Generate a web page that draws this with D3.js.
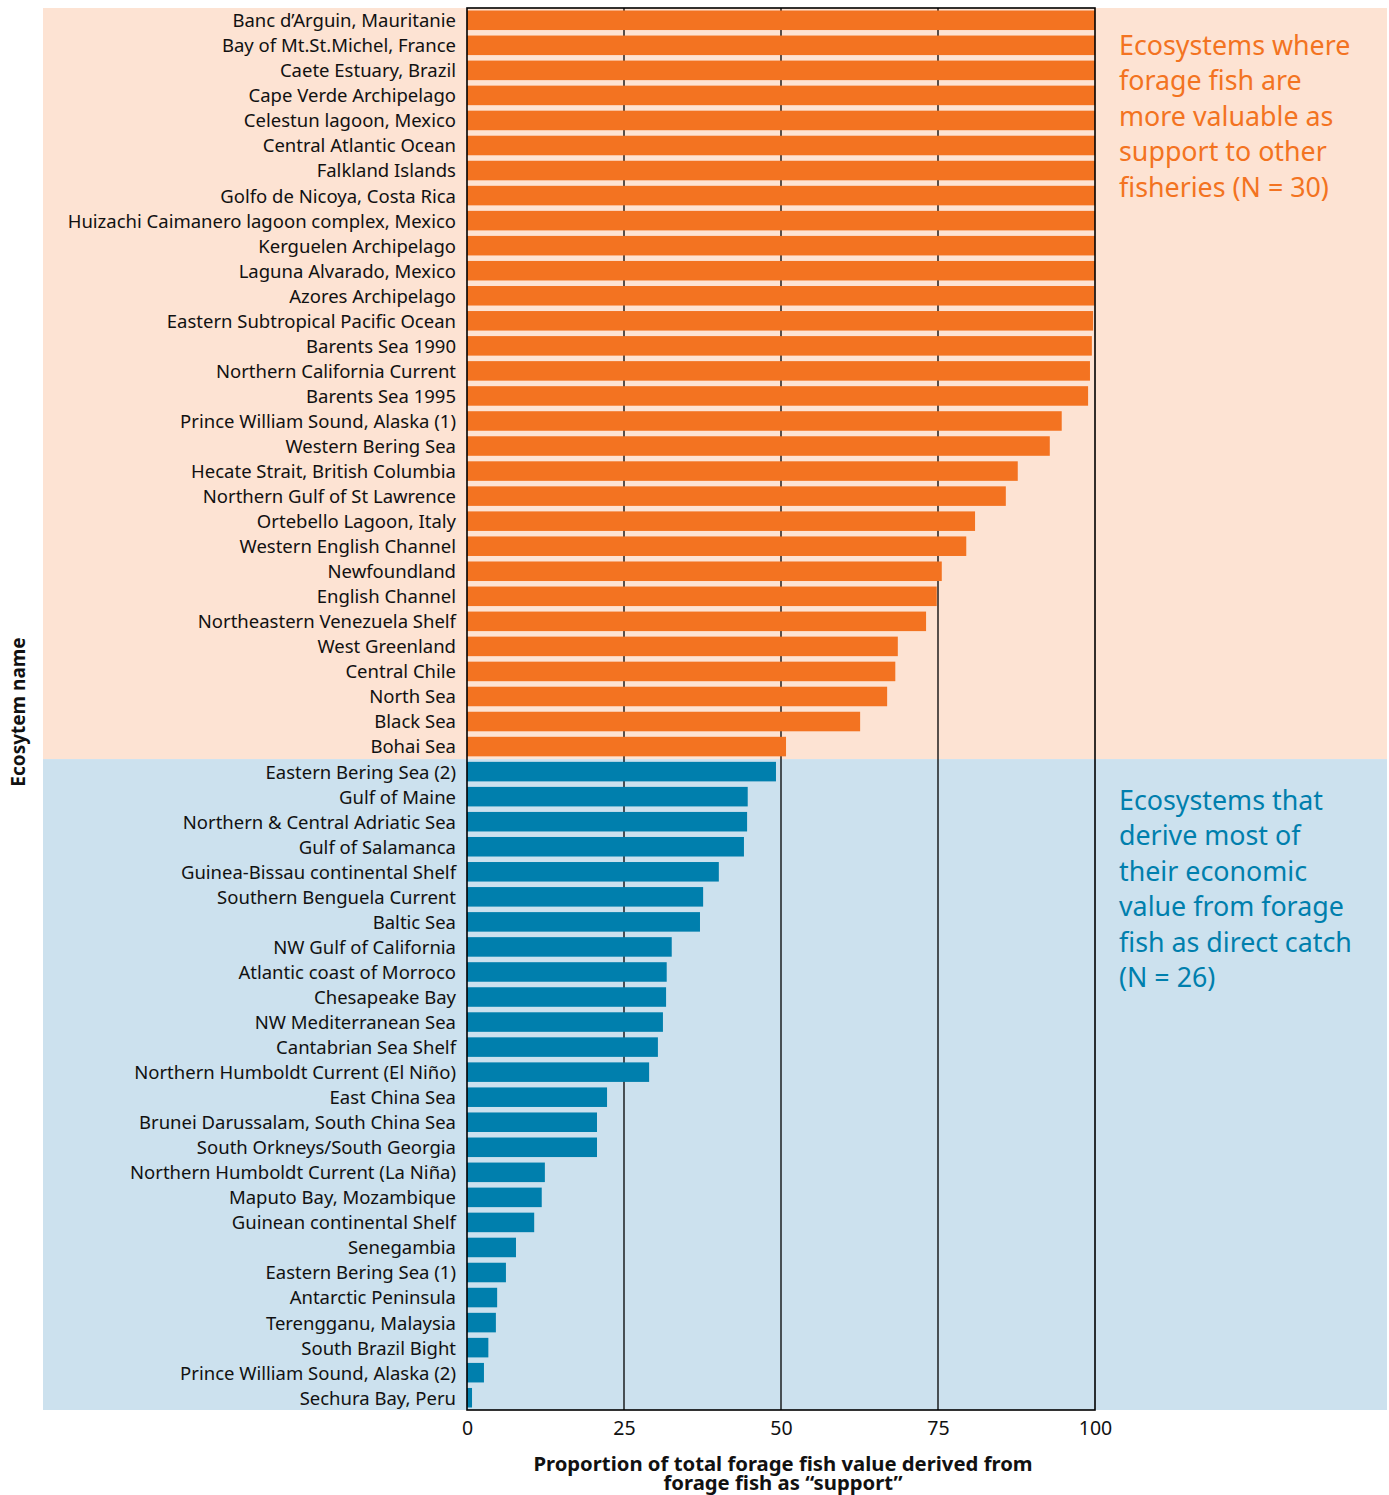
<!DOCTYPE html>
<html>
<head>
<meta charset="utf-8">
<script src="https://cdn.jsdelivr.net/npm/d3@7"></script>
<style>
  body { margin: 0; background: #fff; }
  svg { display: block; font-family: "Noto Sans", "Open Sans", sans-serif; }
</style>
</head>
<body>
<svg id="chart"></svg>
<script>
// Ecosystems, top to bottom
const supportNames = [
  "Banc d\u2019Arguin, Mauritanie", "Bay of Mt.St.Michel, France", "Caete Estuary, Brazil",
  "Cape Verde Archipelago", "Celestun lagoon, Mexico", "Central Atlantic Ocean",
  "Falkland Islands", "Golfo de Nicoya, Costa Rica", "Huizachi Caimanero lagoon complex, Mexico",
  "Kerguelen Archipelago", "Laguna Alvarado, Mexico", "Azores Archipelago",
  "Eastern Subtropical Pacific Ocean", "Barents Sea 1990", "Northern California Current",
  "Barents Sea 1995", "Prince William Sound, Alaska (1)", "Western Bering Sea",
  "Hecate Strait, British Columbia", "Northern Gulf of St Lawrence", "Ortebello Lagoon, Italy",
  "Western English Channel", "Newfoundland", "English Channel",
  "Northeastern Venezuela Shelf", "West Greenland", "Central Chile",
  "North Sea", "Black Sea", "Bohai Sea"
];
const supportValues = [
  100, 100, 100, 100, 100, 100, 100, 100, 100, 100, 100, 99.9,
  99.7, 99.5, 99.2, 98.9, 94.7, 92.8, 87.7, 85.8, 80.9, 79.5,
  75.6, 74.8, 73.1, 68.6, 68.2, 66.9, 62.6, 50.8
];
const catchNames = [
  "Eastern Bering Sea (2)", "Gulf of Maine", "Northern & Central Adriatic Sea",
  "Gulf of Salamanca", "Guinea-Bissau continental Shelf", "Southern Benguela Current",
  "Baltic Sea", "NW Gulf of California", "Atlantic coast of Morroco",
  "Chesapeake Bay", "NW Mediterranean Sea", "Cantabrian Sea Shelf",
  "Northern Humboldt Current (El Ni\u00f1o)", "East China Sea", "Brunei Darussalam, South China Sea",
  "South Orkneys/South Georgia", "Northern Humboldt Current (La Ni\u00f1a)", "Maputo Bay, Mozambique",
  "Guinean continental Shelf", "Senegambia", "Eastern Bering Sea (1)",
  "Antarctic Peninsula", "Terengganu, Malaysia", "South Brazil Bight",
  "Prince William Sound, Alaska (2)", "Sechura Bay, Peru"
];
const catchValues = [
  49.2, 44.7, 44.6, 44.1, 40.1, 37.6, 37.1, 32.6, 31.8, 31.7, 31.2, 30.4,
  29.0, 22.3, 20.7, 20.7, 12.4, 11.9, 10.7, 7.8, 6.2, 4.8, 4.6, 3.4, 2.7, 0.8
];
const xTicks = [0, 25, 50, 75, 100];

const supportText = ["Ecosystems where", "forage fish are", "more valuable as",
  "support to other", "fisheries (N = 30)"];
const catchText = ["Ecosystems that", "derive most of", "their economic",
  "value from forage", "fish as direct catch", "(N = 26)"];

const width = 1389, height = 1495;
const plot = { left: 467, right: 1095, top: 8, bottom: 1410 };
const bgLeft = 43, bgRight = 1387;

const colors = {
  supportBg: "#fde3d3", catchBg: "#cce1ee",
  supportBar: "#f37321", catchBar: "#007fad"
};

const data = supportNames.map((n, i) => ({ name: n, value: supportValues[i], group: "support" }))
  .concat(catchNames.map((n, i) => ({ name: n, value: catchValues[i], group: "catch" })));

const svg = d3.select("#chart").attr("width", width).attr("height", height);

const x = d3.scaleLinear().domain([0, 100]).range([plot.left, plot.right]);
const y = d3.scaleBand()
  .domain(data.map(d => d.name))
  .range([plot.top, plot.bottom])
  .paddingInner(0.22)
  .paddingOuter(0.1);

// Hintergrund der beiden Gruppen
const split = y(catchNames[0]) - y.step() * y.paddingInner() / 2;
svg.append("rect")
  .attr("x", bgLeft).attr("y", plot.top)
  .attr("width", bgRight - bgLeft).attr("height", split - plot.top)
  .attr("fill", colors.supportBg);
svg.append("rect")
  .attr("x", bgLeft).attr("y", split)
  .attr("width", bgRight - bgLeft).attr("height", plot.bottom - split)
  .attr("fill", colors.catchBg);

// Gitterlinien
svg.append("g")
  .selectAll("line")
  .data(xTicks.slice(1, -1))
  .join("line")
    .attr("x1", d => x(d)).attr("x2", d => x(d))
    .attr("y1", plot.top).attr("y2", plot.bottom)
    .attr("stroke", "#000").attr("stroke-width", 1.3);

// Balken
svg.append("g")
  .selectAll("rect")
  .data(data)
  .join("rect")
    .attr("x", x(0))
    .attr("y", d => y(d.name))
    .attr("width", d => x(d.value) - x(0))
    .attr("height", y.bandwidth())
    .attr("fill", d => d.group === "support" ? colors.supportBar : colors.catchBar);

// Rahmen
svg.append("rect")
  .attr("x", plot.left).attr("y", plot.top)
  .attr("width", plot.right - plot.left).attr("height", plot.bottom - plot.top)
  .attr("fill", "none").attr("stroke", "#000").attr("stroke-width", 1.6);

// Y Achse (Namen)
const yAxis = svg.append("g")
  .attr("transform", `translate(${plot.left}, 1)`)
  .call(d3.axisLeft(y).tickSize(0).tickPadding(11));
yAxis.select(".domain").remove();
yAxis.selectAll("text")
  .attr("font-size", 18.5)
  .attr("font-family", "\"Noto Sans\", sans-serif")
  .attr("fill", "#111");

// X Achse
const xAxis = svg.append("g")
  .attr("transform", `translate(0, ${plot.bottom})`)
  .call(d3.axisBottom(x).tickValues(xTicks).tickSize(0).tickPadding(11));
xAxis.select(".domain").remove();
xAxis.selectAll("text")
  .attr("font-size", 19.5)
  .attr("font-family", "\"Noto Sans\", sans-serif")
  .attr("fill", "#111");

// Achsentitel
const xTitle = svg.append("text")
  .attr("text-anchor", "middle")
  .attr("font-size", 20.3)
  .attr("font-weight", "bold")
  .attr("fill", "#111");
xTitle.append("tspan").attr("x", 783).attr("y", 1471)
  .text("Proportion of total forage fish value derived from");
xTitle.append("tspan").attr("x", 783).attr("y", 1490)
  .text("forage fish as \u201csupport\u201d");

svg.append("text")
  .attr("text-anchor", "middle")
  .attr("transform", "translate(25, 712) rotate(-90)")
  .attr("font-size", 19)
  .attr("font-weight", "bold")
  .attr("fill", "#111")
  .text("Ecosytem name");

// Beschriftung der Gruppen
svg.append("g")
  .selectAll("text")
  .data(supportText)
  .join("text")
    .attr("x", 1119)
    .attr("y", (d, i) => 55 + i * 35.4)
    .attr("font-size", 26.8)
    .attr("fill", colors.supportBar)
    .text(d => d);

svg.append("g")
  .selectAll("text")
  .data(catchText)
  .join("text")
    .attr("x", 1119)
    .attr("y", (d, i) => 810 + i * 35.4)
    .attr("font-size", 26.8)
    .attr("fill", colors.catchBar)
    .text(d => d);
</script>
</body>
</html>
